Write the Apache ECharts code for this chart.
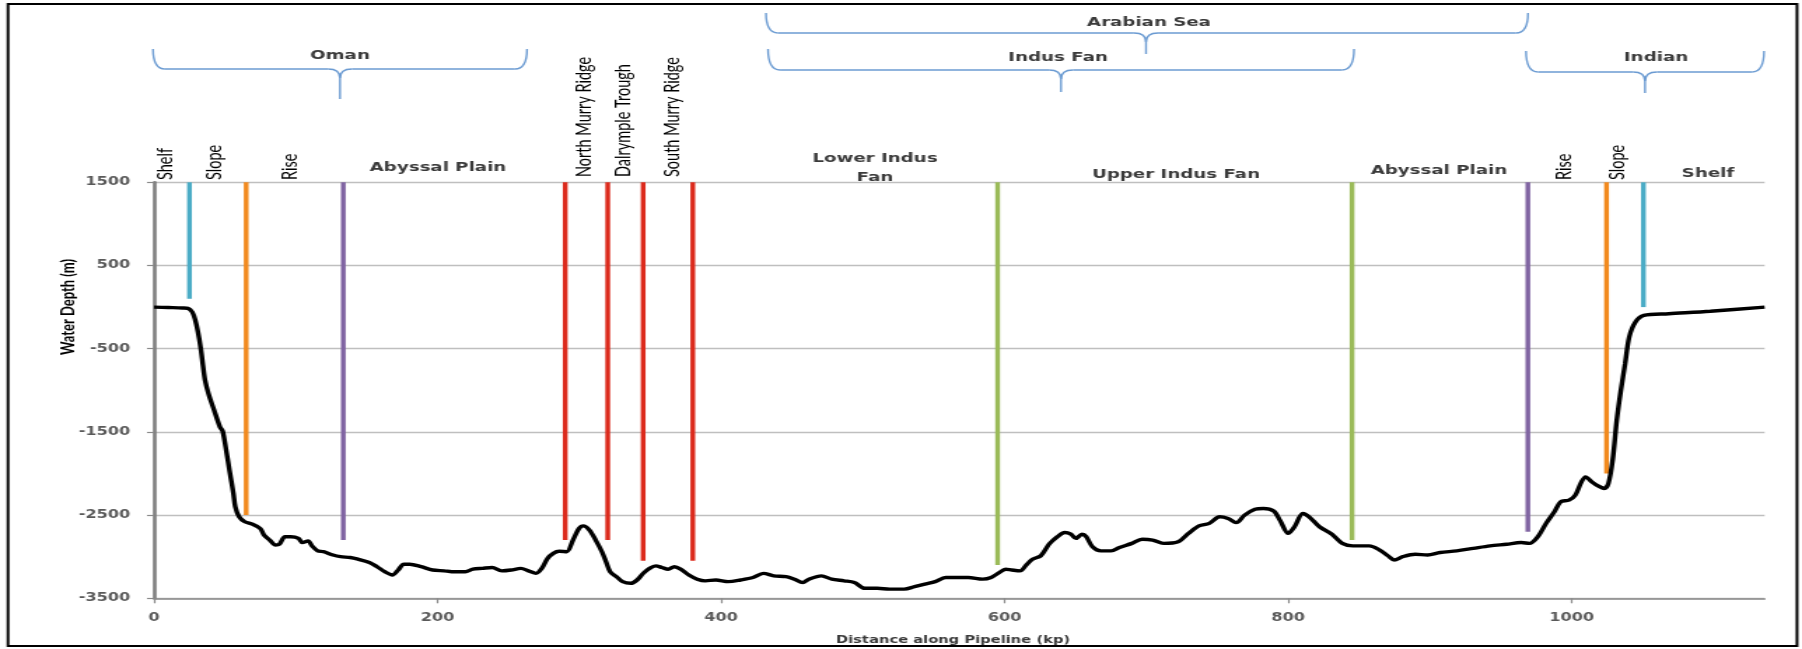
<!DOCTYPE html>
<html>
<head>
<meta charset="utf-8">
<title>Pipeline route water depth profile</title>
<script src="https://cdn.jsdelivr.net/npm/echarts@6/dist/echarts.min.js"></script>
<style>
  html, body { margin: 0; padding: 0; background: #fff; overflow: hidden; }
  /* the reference is a horizontally stretched figure, so the chart is drawn narrow and stretched */
  #chart { width: 1287px; height: 649px; transform: scaleX(1.40016); transform-origin: 0 0; }
</style>
</head>
<body>
<div id="chart"></div>
<script>
// seabed profile: distance along pipeline (kp) and water depth (m)
const kp = [0, 10, 20, 24, 27, 29, 31, 33, 34.5, 36, 38.4, 42.4, 46.5, 48.4, 50.5, 53.2, 56, 57.3, 60, 64,
  69.5, 74.9, 77.6, 81.6, 85.7, 88.4, 92.4, 96.5, 101.9, 104.6, 108.7, 111.4, 115.4, 119.5, 126.2, 131.6, 138.4, 143.8, 151.9, 157.3,
  162.7, 168.1, 172.2, 176.2, 180.3, 188.4, 196.5, 204.6, 210, 219.5, 224.9, 231.6, 238.4, 245.2, 251.9, 258.7, 264.1, 269.5, 273.5, 277.6,
  281.6, 285.7, 291, 295.5, 299.8, 302.8, 307.1, 311.5, 315.9, 318.8, 321.7, 326.1, 330.5, 336.3, 340.7, 345.1, 349.5, 353.9, 358.2, 362.6,
  367, 371.4, 377.2, 383.1, 388.9, 396.2, 405, 413.7, 422.5, 429.8, 437.1, 445.8, 451.7, 457.5, 461.9, 470.7, 478, 486.7, 494, 501.3,
  510.1, 518.8, 529.1, 536.4, 543.7, 551, 558.3, 567, 574.3, 584.5, 590.4, 596.2, 600.6, 605, 610.8, 615.2, 619.6, 625.4, 631.3, 637.1,
  642.4, 646.7, 650.2, 654.6, 657.5, 661.9, 667.8, 675.1, 680.9, 689.7, 697, 704.3, 712, 722.3, 729.6, 737, 744.3, 751.6, 757.5, 763.3,
  769.2, 776.5, 782.4, 789.7, 794.1, 800, 804.4, 810.3, 814.7, 822, 830.8, 838.1, 845.5, 857.2, 864.5, 870.4, 874.8, 880.7, 889.5, 898.3,
  907.1, 918.8, 930.5, 942.3, 954, 964.2, 970.1, 976, 981.8, 987.7, 992.1, 998, 1002.4, 1006.8, 1009.7, 1014.1, 1018.5, 1022.9, 1025.8, 1028.8,
  1031.7, 1034.6, 1037.6, 1040.5, 1044.9, 1050.8, 1068.4, 1097.7, 1136];
const depth = [0, -5, -10, -15, -60, -150, -300, -500, -700, -880, -1040, -1240, -1440, -1490, -1680, -1960, -2240, -2400, -2520, -2580,
  -2610, -2660, -2740, -2800, -2860, -2850, -2760, -2760, -2780, -2830, -2810, -2870, -2930, -2940, -2980, -3000, -3010, -3030, -3070, -3120,
  -3180, -3220, -3160, -3090, -3090, -3120, -3160, -3170, -3180, -3180, -3150, -3140, -3130, -3170, -3160, -3140, -3170, -3200, -3140, -3020,
  -2960, -2935, -2940, -2800, -2660, -2630, -2680, -2800, -2940, -3060, -3180, -3240, -3300, -3320, -3280, -3200, -3140, -3110, -3130, -3150,
  -3120, -3150, -3220, -3270, -3290, -3280, -3300, -3280, -3250, -3200, -3230, -3240, -3270, -3310, -3270, -3230, -3270, -3290, -3310, -3380,
  -3380, -3390, -3390, -3360, -3330, -3300, -3250, -3250, -3250, -3270, -3250, -3190, -3150, -3160, -3170, -3100, -3030, -2990, -2850, -2760,
  -2710, -2730, -2780, -2730, -2760, -2880, -2930, -2930, -2890, -2840, -2790, -2800, -2840, -2820, -2720, -2630, -2600, -2520, -2540, -2590,
  -2500, -2430, -2420, -2450, -2560, -2720, -2640, -2480, -2520, -2640, -2730, -2840, -2870, -2870, -2920, -2990, -3040, -3000, -2970, -2980,
  -2950, -2930, -2900, -2870, -2850, -2830, -2840, -2760, -2600, -2460, -2340, -2320, -2260, -2100, -2040, -2100, -2150, -2180, -2120, -1840,
  -1360, -1000, -680, -360, -180, -100, -80, -50, 0];

// physiographic boundary lines (kp, lower end in m, kind)
const boundaryKp = [25, 65, 133.5, 290, 320, 345, 380, 595, 845, 969, 1024.5, 1050.5];
const boundaryBottom = [100, -2500, -2800, -2800, -2800, -3050, -3050, -3100, -2800, -2700, -2000, 0];
const boundaryKind = ['shelf', 'slope', 'rise', 'ridge', 'ridge', 'ridge', 'ridge', 'fan', 'fan', 'rise', 'slope', 'shelf'];
const boundaryTop = 1500;

const xTicks = [0, 200, 400, 600, 800, 1000];
const yTicks = [-3500, -2500, -1500, -500, 500, 1500];

const kindColor = { shelf: '#4bacc6', slope: '#f28a1e', rise: '#8064a2', ridge: '#dc2a1c', fan: '#9bbb59' };

const S = 1802 / 1287;
const X = v => v / S;   // picture px -> chart px

let myChart = echarts.init(document.getElementById('chart'));

function hText(s, x, y, size) {
  return {
    type: 'text', x: X(x), y: y, silent: true,
    style: { text: s, fill: '#3a3a3a', fontFamily: 'DejaVu Sans', fontWeight: 'bold', fontSize: size || 13, align: 'center', verticalAlign: 'middle' }
  };
}
function vText(s, x, y, bold) {
  return {
    type: 'text', x: X(x), y: y, rotation: Math.PI / 2, silent: true,
    style: { text: s, fill: '#000', fontFamily: 'Lato', fontWeight: bold ? 'bold' : 'normal', fontSize: bold ? 13 : 14.5, align: 'left', verticalAlign: 'middle' }
  };
}
// curly brace opening downwards
function brace(x0, x1, xm, top, line, tip) {
  const r = X(12), a = X(x0), b = X(x1), m = X(xm);
  const st = { stroke: '#6b9bd2', lineWidth: 1.4, fill: 'none' };
  return [
    { type: 'bezierCurve', shape: { x1: a, y1: top, cpx1: a, cpy1: line, x2: a + r, y2: line }, style: st, silent: true },
    { type: 'line', shape: { x1: a + r, y1: line, x2: m - r, y2: line }, style: st, silent: true },
    { type: 'bezierCurve', shape: { x1: m - r, y1: line, cpx1: m, cpy1: line, x2: m, y2: line + 9 }, style: st, silent: true },
    { type: 'bezierCurve', shape: { x1: m + r, y1: line, cpx1: m, cpy1: line, x2: m, y2: line + 9 }, style: st, silent: true },
    { type: 'line', shape: { x1: m, y1: line + 9, x2: m, y2: tip }, style: st, silent: true },
    { type: 'line', shape: { x1: m + r, y1: line, x2: b - r, y2: line }, style: st, silent: true },
    { type: 'bezierCurve', shape: { x1: b - r, y1: line, cpx1: b, cpy1: line, x2: b, y2: top }, style: st, silent: true }
  ];
}

let graphics = [
  { type: 'rect', silent: true, shape: { x: X(8), y: 4, width: X(1789), height: 642 }, style: { fill: 'none', stroke: '#000', lineWidth: 2 } },
  ...brace(153, 527, 340, 49, 69, 99),
  ...brace(766, 1528, 1146, 13, 33, 54),
  ...brace(768, 1354, 1061, 49, 70, 92),
  ...brace(1526, 1764, 1645, 51, 72, 93),
  hText('Oman', 340, 56),
  hText('Arabian Sea', 1149, 23),
  hText('Indus Fan', 1058, 58),
  hText('Indian', 1656, 58),
  hText('Abyssal Plain', 438, 168),
  hText('Lower Indus', 875, 159),
  hText('Fan', 875, 178),
  hText('Upper Indus Fan', 1176, 175),
  hText('Abyssal Plain', 1439, 171),
  hText('Shelf', 1708, 174),
  vText('Shelf', 166, 180),
  vText('Slope', 215, 180),
  vText('Rise', 290, 180),
  vText('North Murry Ridge', 585, 177),
  vText('Dalrymple Trough', 624, 177),
  vText('South Murry Ridge', 672, 177),
  vText('Rise', 1565, 180),
  vText('Slope', 1618, 180),
  { type: 'text', x: X(68), y: 307, rotation: Math.PI / 2, silent: true,
    style: { text: 'Water Depth (m)', fill: '#000', fontFamily: 'Lato', fontWeight: 'bold', fontSize: 13, align: 'center', verticalAlign: 'middle' } },
  hText('Distance along Pipeline (kp)', 953, 640, 10.5)
];

let series = [{
  type: 'line',
  name: 'Seabed',
  data: kp.map((k, i) => [k, depth[i]]),
  showSymbol: false,
  smooth: 0.3,
  lineStyle: { color: '#000', width: 3.4 },
  z: 3
}];
boundaryKp.forEach((k, i) => {
  series.push({
    type: 'line',
    data: [[k, boundaryTop], [k, boundaryBottom[i]]],
    showSymbol: false,
    clip: false,
    lineStyle: { color: kindColor[boundaryKind[i]], width: 3.4, cap: 'butt' },
    z: 2
  });
});

const labelFont = { color: '#595959', fontFamily: 'DejaVu Sans', fontWeight: 'bold', fontSize: 11.5, formatter: v => String(v) };

let option = {
  animation: false,
  grid: { left: 110, right: 26.7, top: 182.3, bottom: 50.7 },
  xAxis: {
    type: 'value', min: 0, max: 1136, interval: 200,
    axisLine: { onZero: false, lineStyle: { color: '#8a8a8a', width: 1.6 } },
    axisTick: { show: true, length: 5, customValues: xTicks, lineStyle: { color: '#8a8a8a', width: 1.2 } },
    axisLabel: Object.assign({ customValues: xTicks, margin: 14 }, labelFont),
    splitLine: { show: false }
  },
  yAxis: {
    type: 'value', min: -3500, max: 1500, interval: 500,
    axisLine: { show: true, onZero: false, lineStyle: { color: '#7f7f7f', width: 2.6 } },
    axisTick: { show: true, length: 5, customValues: yTicks, lineStyle: { color: '#8a8a8a', width: 1.2 } },
    axisLabel: Object.assign({ customValues: yTicks, margin: 17 }, labelFont),
    splitLine: { lineStyle: { color: '#bfbfbf', width: 1.3 } }
  },
  series: series,
  graphic: { elements: graphics }
};
myChart.setOption(option);
</script>
</body>
</html>
